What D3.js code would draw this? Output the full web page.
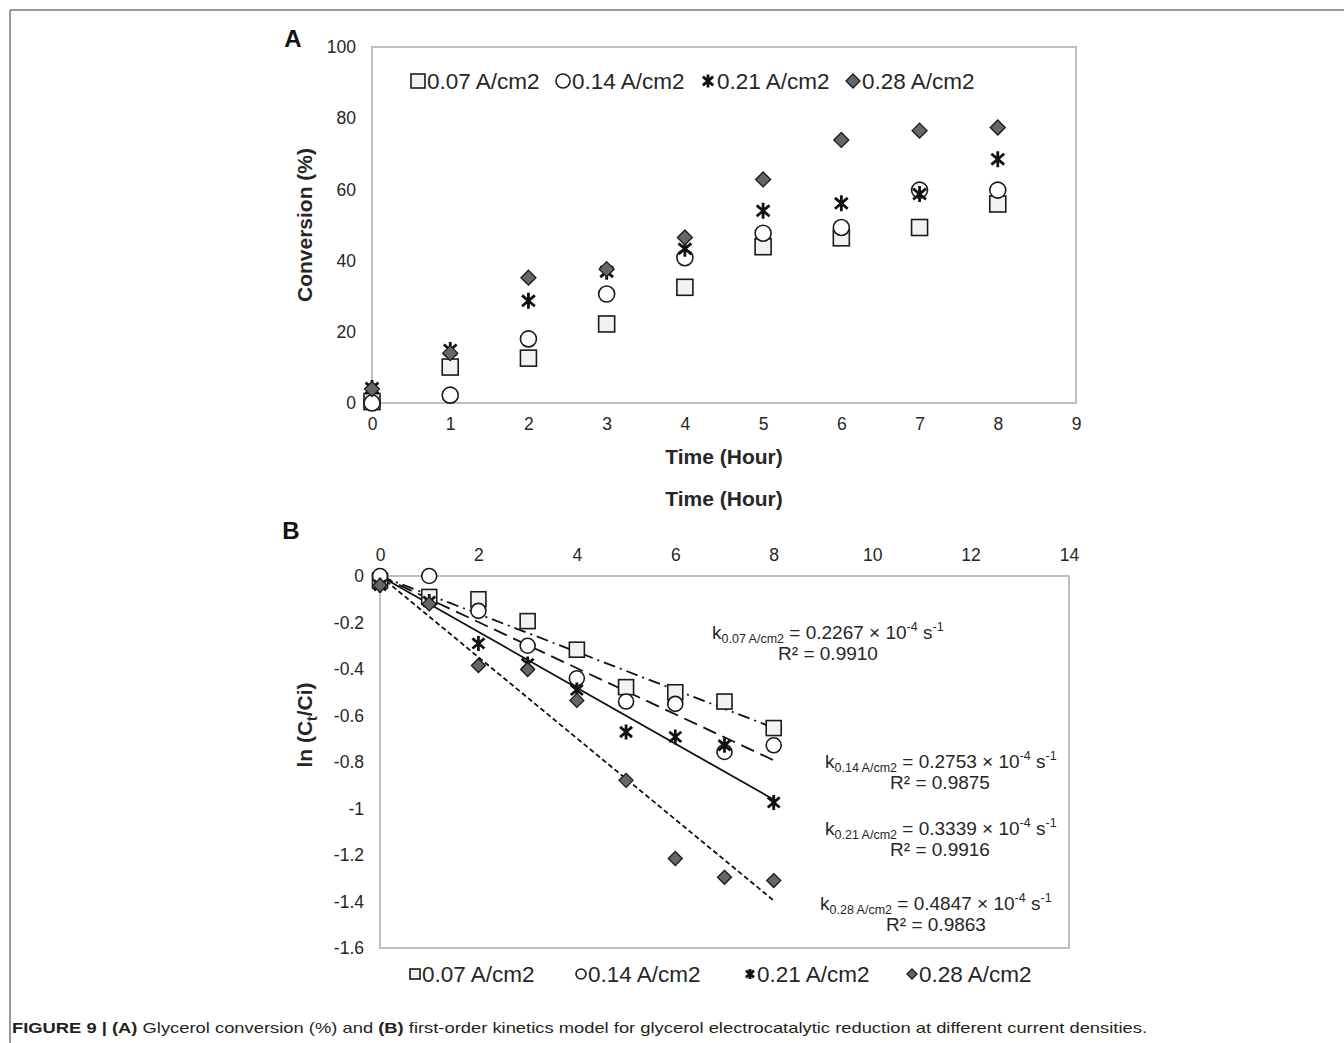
<!DOCTYPE html>
<html>
<head>
<meta charset="utf-8">
<script src="https://cdn.jsdelivr.net/npm/d3@7"></script>
<style>
  html, body { margin: 0; padding: 0; background: #fff; }
  svg { display: block; font-family: "Liberation Sans", Arial, sans-serif; }
</style>
</head>
<body>
<svg id="chart" width="1344" height="1043"></svg>
<script>
// ---------- data ----------
const seriesNames = ["0.07 A/cm2", "0.14 A/cm2", "0.21 A/cm2", "0.28 A/cm2"];
const seriesKeys = ["0.07", "0.14", "0.21", "0.28"];
const seriesSymbols = ["square", "circle", "star", "diamond"];

const timeHours = [0, 1, 2, 3, 4, 5, 6, 7, 8];

// Panel A: conversion (%)
const conv007 = [0.4, 10.1, 12.6, 22.2, 32.5, 43.9, 46.4, 49.3, 55.9];
const conv014 = [0.0, 2.2, 18.0, 30.6, 40.8, 47.7, 49.3, 59.8, 59.8];
const conv021 = [4.2, 14.9, 28.7, 36.9, 43.3, 54.0, 56.1, 58.7, 68.5];
const conv028 = [3.9, 14.0, 35.2, 37.6, 46.5, 62.8, 73.9, 76.5, 77.4];

// Panel B: ln(Ct/Ci)
const ln007 = [-0.02, -0.09, -0.10, -0.194, -0.317, -0.478, -0.50, -0.54, -0.654];
const ln014 = [0.0, 0.0, -0.15, -0.30, -0.44, -0.54, -0.55, -0.757, -0.728];
const ln021 = [-0.04, -0.11, -0.29, -0.378, -0.49, -0.671, -0.692, -0.728, -0.974];
const ln028 = [-0.04, -0.12, -0.385, -0.402, -0.535, -0.879, -1.215, -1.296, -1.31];

// Fitted first-order rate constants (x 10^-4 s^-1) and R²
const kRates = [0.2267, 0.2753, 0.3339, 0.4847];
const rSquared = ["0.9910", "0.9875", "0.9916", "0.9863"];

// Axis tick values
const ticksAx = [0, 1, 2, 3, 4, 5, 6, 7, 8, 9];
const ticksAy = [0, 20, 40, 60, 80, 100];
const ticksBx = [0, 2, 4, 6, 8, 10, 12, 14];
const ticksBy = [0, -0.2, -0.4, -0.6, -0.8, -1, -1.2, -1.4, -1.6];

const convSeries = [conv007, conv014, conv021, conv028];
const lnSeries = [ln007, ln014, ln021, ln028];

// ---------- setup ----------
const svg = d3.select("#chart");
const TXT = "#262626";
const GRID = "#bfbfbf";

// outer frame (top and left lines)
svg.append("line").attr("x1", 10).attr("y1", 10).attr("x2", 1344).attr("y2", 10)
  .attr("stroke", "#777").attr("stroke-width", 1.5);
svg.append("line").attr("x1", 10).attr("y1", 10).attr("x2", 10).attr("y2", 1043)
  .attr("stroke", "#777").attr("stroke-width", 1.5);

// symbol drawer
function drawSymbol(g, type, x, y, s) {
  if (type === "square") {
    g.append("rect").attr("x", x - s / 2).attr("y", y - s / 2).attr("width", s).attr("height", s)
      .attr("fill", "#f2f2f2").attr("stroke", "#1a1a1a").attr("stroke-width", 1.6);
  } else if (type === "circle") {
    g.append("circle").attr("cx", x).attr("cy", y).attr("r", s / 2)
      .attr("fill", "#fff").attr("stroke", "#1a1a1a").attr("stroke-width", 1.6);
  } else if (type === "diamond") {
    const h = s / 2;
    g.append("path").attr("d", `M${x},${y - h}L${x + h},${y}L${x},${y + h}L${x - h},${y}Z`)
      .attr("fill", "#666").attr("stroke", "#1a1a1a").attr("stroke-width", 1.3);
  } else if (type === "star") {
    const h = s / 2, dx = h * 0.8, dy = h * 0.68;
    g.append("path")
      .attr("d", `M${x},${y - h}L${x},${y + h}M${x - dx},${y - dy}L${x + dx},${y + dy}M${x - dx},${y + dy}L${x + dx},${y - dy}`)
      .attr("fill", "none").attr("stroke", "#111").attr("stroke-width", 2.8);
  }
}

// ================= Panel A =================
const ax = d3.scaleLinear().domain([0, 9]).range([372, 1076]);
const ay = d3.scaleLinear().domain([0, 100]).range([403, 47]);

svg.append("rect").attr("x", ax(0)).attr("y", ay(100))
  .attr("width", ax(9) - ax(0)).attr("height", ay(0) - ay(100))
  .attr("fill", "none").attr("stroke", GRID).attr("stroke-width", 2);

const axB = svg.append("g").attr("transform", `translate(0,${ay(0)})`)
  .call(d3.axisBottom(ax).tickValues(ticksAx).tickSize(0).tickPadding(15).tickFormat(d3.format("d")));
const axL = svg.append("g").attr("transform", `translate(${ax(0)},0)`)
  .call(d3.axisLeft(ay).tickValues(ticksAy).tickSize(0).tickPadding(16).tickFormat(d3.format("d")));
[axB, axL].forEach(g => {
  g.select(".domain").remove();
  g.selectAll("text").attr("font-size", 17.5).attr("fill", TXT).attr("font-family", "Liberation Sans, Arial, sans-serif");
});

const gA = svg.append("g");
convSeries.forEach((vals, si) => {
  vals.forEach((v, i) => drawSymbol(gA, seriesSymbols[si], ax(timeHours[i]), ay(v), si === 3 ? 15 : 16));
});

// Legend A
const legA = svg.append("g");
const legAX = [418, 563, 708, 853];
seriesNames.forEach((n, i) => {
  drawSymbol(legA, seriesSymbols[i], legAX[i], 81, i === 2 ? 13 : 14);
  legA.append("text").attr("x", legAX[i] + 9).attr("y", 81).attr("dy", "0.35em")
    .attr("font-size", 22.5).attr("fill", TXT).text(n);
});

// Titles A
svg.append("text").attr("x", 293).attr("y", 47).attr("text-anchor", "middle")
  .attr("font-size", 24).attr("font-weight", "bold").attr("fill", "#111").text("A");
svg.append("text").attr("x", 724).attr("y", 464).attr("text-anchor", "middle")
  .attr("font-size", 21).attr("font-weight", "bold").attr("fill", TXT).text("Time (Hour)");
svg.append("text").attr("x", 724).attr("y", 506).attr("text-anchor", "middle")
  .attr("font-size", 21).attr("font-weight", "bold").attr("fill", TXT).text("Time (Hour)");
svg.append("text").attr("transform", `translate(312,225) rotate(-90)`).attr("text-anchor", "middle")
  .attr("font-size", 21).attr("font-weight", "bold").attr("fill", TXT).text("Conversion (%)");

// ================= Panel B =================
const bx = d3.scaleLinear().domain([0, 14]).range([380, 1069]);
const by = d3.scaleLinear().domain([-1.6, 0]).range([948, 576]);

svg.append("rect").attr("x", bx(0)).attr("y", by(0))
  .attr("width", bx(14) - bx(0)).attr("height", by(-1.6) - by(0))
  .attr("fill", "none").attr("stroke", GRID).attr("stroke-width", 2);

const bxT = svg.append("g").attr("transform", `translate(0,${by(0)})`)
  .call(d3.axisTop(bx).tickValues(ticksBx).tickSize(0).tickPadding(15).tickFormat(d3.format("d")));
const byL = svg.append("g").attr("transform", `translate(${bx(0)},0)`)
  .call(d3.axisLeft(by).tickValues(ticksBy).tickSize(0).tickPadding(16).tickFormat(d => d === 0 ? "0" : String(d)));
[bxT, byL].forEach(g => {
  g.select(".domain").remove();
  g.selectAll("text").attr("font-size", 17.5).attr("fill", TXT).attr("font-family", "Liberation Sans, Arial, sans-serif");
});

// trend lines
const dashes = ["12,5,2,5", "14,7", null, "5,3"];
const gLines = svg.append("g");
kRates.forEach((k, i) => {
  const perHour = k * 1e-4 * 3600;
  const pts = [[0, 0], [8, -perHour * 8]];
  gLines.append("path")
    .attr("d", d3.line().x(d => bx(d[0])).y(d => by(d[1]))(pts))
    .attr("fill", "none").attr("stroke", "#111").attr("stroke-width", 1.8)
    .attr("stroke-dasharray", dashes[i]);
});

const gB = svg.append("g");
lnSeries.forEach((vals, si) => {
  vals.forEach((v, i) => drawSymbol(gB, seriesSymbols[si], bx(timeHours[i]), by(v), si === 3 ? 14 : 15));
});

// annotations
const annK = [[712, 639], [825, 768], [825, 835], [820, 910]];
const annR = [[828, 660], [940, 789], [940, 856], [936, 931]];
kRates.forEach((k, i) => {
  const t = svg.append("text").attr("x", annK[i][0]).attr("y", annK[i][1])
    .attr("font-size", 19).attr("fill", TXT);
  t.append("tspan").text("k");
  t.append("tspan").attr("font-size", 12.5).attr("dy", 4).text(seriesKeys[i] + " A/cm2");
  t.append("tspan").attr("dy", -4).text(" = " + k.toFixed(4) + " × 10");
  t.append("tspan").attr("font-size", 12.5).attr("dy", -8).text("-4");
  t.append("tspan").attr("dy", 8).text(" s");
  t.append("tspan").attr("font-size", 12.5).attr("dy", -8).text("-1");
  svg.append("text").attr("x", annR[i][0]).attr("y", annR[i][1]).attr("text-anchor", "middle")
    .attr("font-size", 19).attr("fill", TXT).text("R² = " + rSquared[i]);
});

// Legend B
const legB = svg.append("g");
const legBX = [415, 581, 750, 912];
seriesNames.forEach((n, i) => {
  drawSymbol(legB, seriesSymbols[i], legBX[i], 974, 10);
  legB.append("text").attr("x", legBX[i] + 7).attr("y", 974).attr("dy", "0.35em")
    .attr("font-size", 22.5).attr("fill", TXT).text(n);
});

// Titles B
svg.append("text").attr("x", 291).attr("y", 539).attr("text-anchor", "middle")
  .attr("font-size", 24).attr("font-weight", "bold").attr("fill", "#111").text("B");
const yt = svg.append("text").attr("transform", `translate(312,725) rotate(-90)`).attr("text-anchor", "middle")
  .attr("font-size", 21).attr("font-weight", "bold").attr("fill", TXT);
yt.append("tspan").text("ln (C");
yt.append("tspan").attr("font-size", 14).attr("dy", 5).text("t");
yt.append("tspan").attr("dy", -5).text("/Ci)");

// Caption
const cap = svg.append("text").attr("x", 12).attr("y", 1033).attr("font-size", 15).attr("fill", "#231f20")
  .attr("textLength", 1135).attr("lengthAdjust", "spacingAndGlyphs");
cap.append("tspan").attr("font-weight", "bold").text("FIGURE 9 | (A)");
cap.append("tspan").text(" Glycerol conversion (%) and ");
cap.append("tspan").attr("font-weight", "bold").text("(B)");
cap.append("tspan").text(" first-order kinetics model for glycerol electrocatalytic reduction at different current densities.");
</script>
</body>
</html>
